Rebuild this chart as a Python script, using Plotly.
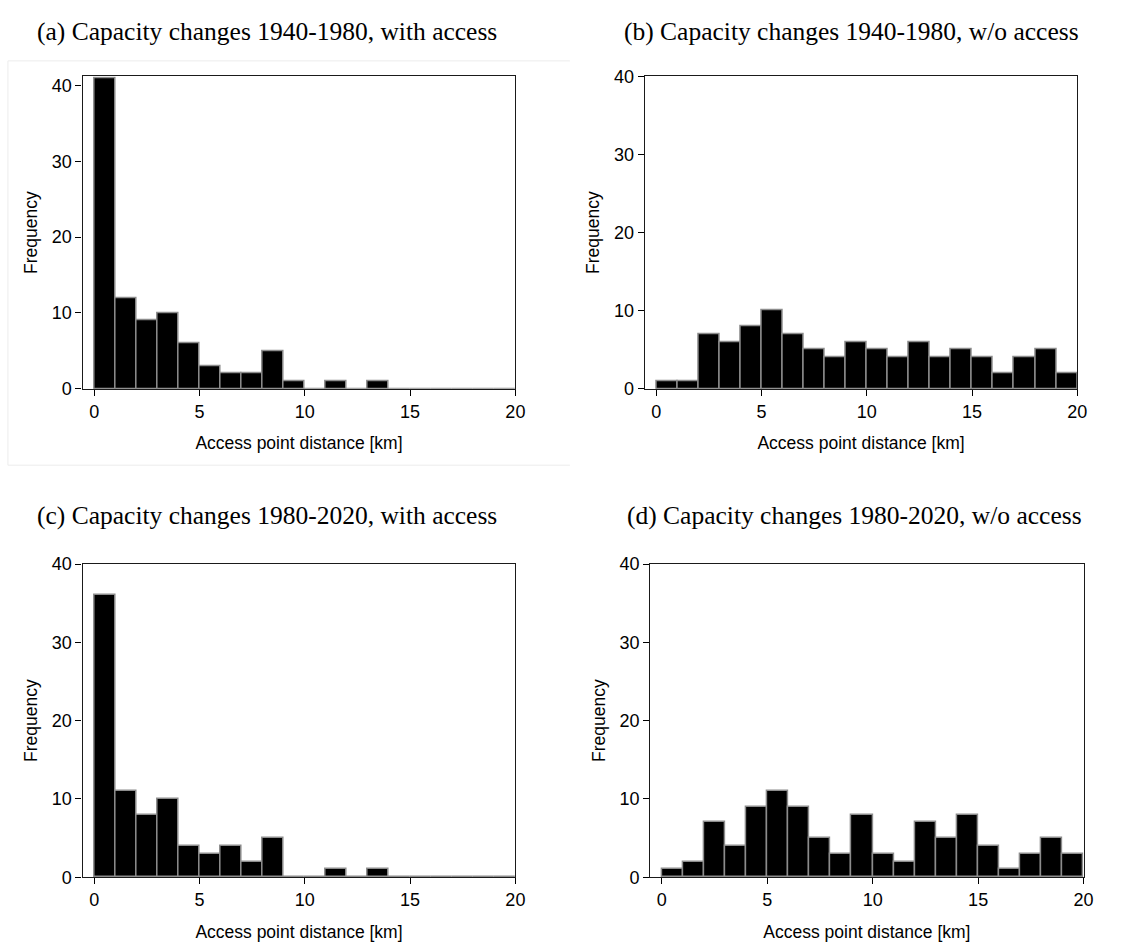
import plotly.graph_objects as go

# Histogram bins: 1 km wide, 0-20 km
bin_left = list(range(0, 20))
bin_width = 1.0

# Counts per bin for each panel
counts_a = [41, 12, 9, 10, 6, 3, 2, 2, 5, 1, 0, 1, 0, 1, 0, 0, 0, 0, 0, 0]
counts_b = [1, 1, 7, 6, 8, 10, 7, 5, 4, 6, 5, 4, 6, 4, 5, 4, 2, 4, 5, 2]
counts_c = [36, 11, 8, 10, 4, 3, 4, 2, 5, 0, 0, 1, 0, 1, 0, 0, 0, 0, 0, 0]
counts_d = [1, 2, 7, 4, 9, 11, 9, 5, 3, 8, 3, 2, 7, 5, 8, 4, 1, 3, 5, 3]

panel_titles = [
    "(a) Capacity changes 1940-1980, with access",
    "(b) Capacity changes 1940-1980, w/o access",
    "(c) Capacity changes 1980-2020, with access",
    "(d) Capacity changes 1980-2020, w/o access",
]
x_ticks = [0, 5, 10, 15, 20]
y_ticks = [0, 10, 20, 30, 40]
x_title = "Access point distance [km]"
y_title = "Frequency"

W, H = 1126, 948


def px_x(v):
    return v / W


def px_y(v):
    return 1 - v / H


# Plot-area rectangles in pixels: (left, right, top, bottom)
boxes = [
    (83.3, 520.0, 67.7, 387.0),
    (650.5, 1087.0, 67.7, 387.0),
    (83.3, 520.0, 566.0, 886.0),
    (656.0, 1093.3, 566.0, 886.0),
]
y_tops = [41.2, 40, 40, 40]
title_pos = [(269, 21.5), (859, 21.5), (269, 516), (862, 516)]

fig = go.Figure()
all_counts = [counts_a, counts_b, counts_c, counts_d]
centers = [b + bin_width / 2 for b in bin_left]

axis_font = dict(family="Liberation Sans, Arial, sans-serif", size=18, color="#000")
title_font = dict(family="Liberation Sans, Arial, sans-serif", size=17.5, color="#000")

for i, counts in enumerate(all_counts):
    k = "" if i == 0 else str(i + 1)
    fig.add_trace(go.Bar(
        x=centers, y=counts, width=bin_width,
        marker=dict(color="#000000", line=dict(color="#8c8c8c", width=1.5)),
        xaxis="x" + k, yaxis="y" + k, showlegend=False,
        hoverinfo="x+y",
    ))
    l, r, t, b = boxes[i]
    common = dict(
        showline=True, linecolor="#1a1a1a", linewidth=1.3, mirror=True,
        ticks="outside", ticklen=6, tickwidth=1, tickcolor="#000",
        showgrid=False, zeroline=False, tickfont=axis_font,
    )
    fig.update_layout(**{
        "xaxis" + k: dict(
            domain=[px_x(l), px_x(r)], range=[-0.55, 20],
            tickvals=x_ticks, anchor="y" + k,
            title=dict(text=x_title, font=title_font, standoff=16),
            **common,
        ),
        "yaxis" + k: dict(
            domain=[px_y(b), px_y(t)], range=[0, y_tops[i]],
            tickvals=y_ticks, anchor="x" + k,
            title=dict(text=y_title, font=title_font, standoff=9),
            **common,
        ),
    })
    tx, ty = title_pos[i]
    fig.add_annotation(
        text=panel_titles[i], x=px_x(tx), y=px_y(ty),
        xref="paper", yref="paper", xanchor="center", yanchor="middle",
        showarrow=False,
        font=dict(family="Liberation Serif, DejaVu Serif, serif", size=25.5, color="#000"),
    )

# Light frame around the first panel
fig.add_shape(
    type="path", xref="paper", yref="paper",
    path=f"M {px_x(575)},{px_y(52)} L {px_x(8)},{px_y(52)} L {px_x(8)},{px_y(465)} L {px_x(575)},{px_y(465)}",
    line=dict(color="#ececec", width=1),
)

fig.update_layout(
    width=W, height=H,
    margin=dict(l=0, r=0, t=0, b=0),
    paper_bgcolor="white", plot_bgcolor="white",
    bargap=0,
)

fig.write_html("out.html")
